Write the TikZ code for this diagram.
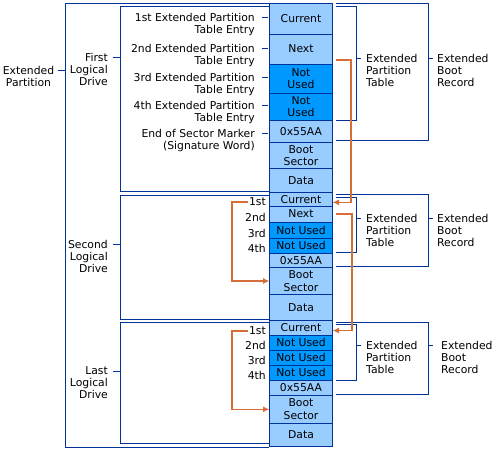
\documentclass[tikz,border=0pt]{standalone}
\usepackage{fontspec}
\setmainfont{DejaVu Sans}
\usepackage{tikz}
\usetikzlibrary{arrows.meta}

\definecolor{cellfill}{RGB}{153,204,255}
\definecolor{unusedfill}{RGB}{0,153,255}
\definecolor{edge}{RGB}{0,51,153}
\definecolor{linkorange}{RGB}{214,110,58}

\tikzset{
	txt/.style={font=\fontsize{10.8}{12}\selectfont, inner sep=0pt},
	cell/.style={draw=edge, line width=0.8pt, fill=cellfill, minimum width=63pt, inner sep=0pt, outer sep=0pt, anchor=north west, align=center, font=\fontsize{10.8}{12.5}\selectfont},
	unused/.style={cell, fill=unusedfill},
	brace/.style={draw=edge, line width=0.8pt},
	link/.style={draw=linkorange, line width=1.5pt, -{Latex[length=6.5pt,width=6pt]}},
}

\begin{document}
\begin{tikzpicture}[x=1pt,y=-1pt]
		\useasboundingbox (0,0) rectangle (494,451);
		\node[cell, minimum height=30.7pt] (cur1) at (269.5,3.3) {Current};
		\node[cell, minimum height=30pt] (next1) at (269.5,34) {Next};
		\node[unused, minimum height=29pt] (nua1) at (269.5,64) {Not\\Used};
		\node[unused, minimum height=27.7pt] (nub1) at (269.5,93) {Not\\Used};
		\node[cell, minimum height=22pt] (sig1) at (269.5,120.7) {0x55AA};
		\node[cell, minimum height=26pt] (boot1) at (269.5,142.7) {Boot\\Sector};
		\node[cell, minimum height=24pt] (data1) at (269.5,168.7) {Data};
		\node[cell, minimum height=13.3pt] (cur2) at (269.5,192.7) {Current};
		\node[cell, minimum height=16pt] (next2) at (269.5,206) {Next};
		\node[unused, minimum height=16pt] (nua2) at (269.5,222) {Not Used};
		\node[unused, minimum height=15.3pt] (nub2) at (269.5,238) {Not Used};
		\node[cell, minimum height=14pt] (sig2) at (269.5,253.3) {0x55AA};
		\node[cell, minimum height=27.4pt] (boot2) at (269.5,267.3) {Boot\\Sector};
		\node[cell, minimum height=25.3pt] (data2) at (269.5,294.7) {Data};
		\node[cell, minimum height=15pt] (cur3) at (269.5,320) {Current};
		\node[unused, minimum height=15.3pt] (nua3) at (269.5,335) {Not Used};
		\node[unused, minimum height=14.7pt] (nub3) at (269.5,350.3) {Not Used};
		\node[unused, minimum height=15.3pt] (nuc3) at (269.5,365) {Not Used};
		\node[cell, minimum height=14.7pt] (sig3) at (269.5,380.3) {0x55AA};
		\node[cell, minimum height=28.7pt] (boot3) at (269.5,395) {Boot\\Sector};
		\node[cell, minimum height=22.7pt] (data3) at (269.5,423.7) {Data};

		\draw[brace] (269,3) -- (65,3) -- (65,447) -- (269,447) (58,70) -- (65,70);
		\node[txt, align=center, anchor=north] (extpart) at (28.5,65.8) {Extended\\Partition};
		\draw[brace] (269,6.5) -- (120,6.5) -- (120,191.7) -- (269,191.7) (113,57) -- (120,57);
		\node[txt, align=right, anchor=north east] (drive1) at (108,52.8) {First\\Logical\\Drive};
		\draw[brace] (269,195.7) -- (120,195.7) -- (120,319) -- (269,319) (113,244) -- (120,244);
		\node[txt, align=right, anchor=north east] (drive2) at (108,239.8) {Second\\Logical\\Drive};
		\draw[brace] (269,322.7) -- (120,322.7) -- (120,443) -- (269,443) (113,371) -- (120,371);
		\node[txt, align=right, anchor=north east] (drive3) at (108,366.8) {Last\\Logical\\Drive};

		\draw[brace] (262,17) -- (268,17) (262,48) -- (268,48) (262,77) -- (268,77) (262,105) -- (268,105) (262,133) -- (268,133);
		\node[txt, align=right, anchor=north east] (entry1) at (255,12.8) {1st Extended Partition\\Table Entry};
		\node[txt, align=right, anchor=north east] (entry2) at (255,43.8) {2nd Extended Partition\\Table Entry};
		\node[txt, align=right, anchor=north east] (entry3) at (255,72.8) {3rd Extended Partition\\Table Entry};
		\node[txt, align=right, anchor=north east] (entry4) at (255,100.8) {4th Extended Partition\\Table Entry};
		\node[txt, align=right, anchor=north east] (entry5) at (255,128.8) {End of Sector Marker\\(Signature Word)};

		\node[txt, anchor=east] (one2) at (266,202) {1st};
		\node[txt, anchor=east] (two2) at (266,217) {2nd};
		\node[txt, anchor=east] (three2) at (266,233) {3rd};
		\node[txt, anchor=east] (four2) at (266,248) {4th};
		\node[txt, anchor=east] (one3) at (266,331) {1st};
		\node[txt, anchor=east] (two3) at (266,345) {2nd};
		\node[txt, anchor=east] (three3) at (266,360) {3rd};
		\node[txt, anchor=east] (four3) at (266,375.5) {4th};

		\draw[brace] (336,6) -- (356,6) -- (356,120) -- (336,120) (356,58) -- (361,58);
		\draw[brace] (336,3) -- (428,3) -- (428,140) -- (336,140) (428,58) -- (433,58);
		\node[txt, align=left, anchor=north west] (ept1) at (366,53.8) {Extended\\Partition\\Table};
		\node[txt, align=left, anchor=north west] (ebr1) at (437,53.8) {Extended\\Boot\\Record};
		\draw[brace] (336,197.3) -- (356,197.3) -- (356,252.3) -- (336,252.3) (356,218) -- (361,218);
		\draw[brace] (336,194.7) -- (428.5,194.7) -- (428.5,266) -- (336,266) (428.5,218) -- (433,218);
		\node[txt, align=left, anchor=north west] (ept2) at (366,213.8) {Extended\\Partition\\Table};
		\node[txt, align=left, anchor=north west] (ebr2) at (437,213.8) {Extended\\Boot\\Record};
		\draw[brace] (336,324) -- (356,324) -- (356,380.3) -- (336,380.3) (356,345) -- (361,345);
		\draw[brace] (336,322.3) -- (428.5,322.3) -- (428.5,394) -- (336,394) (428.5,345) -- (433,345);
		\node[txt, align=left, anchor=north west] (ept3) at (366,340.8) {Extended\\Partition\\Table};
		\node[txt, align=left, anchor=north west] (ebr3) at (441,340.8) {Extended\\Boot\\Record};

		\draw[link] ([xshift=3pt,yshift=4pt]next1.south east) -- ++(15.5,0) |- ([yshift=-3pt]cur2.east);
		\draw[link] ([xshift=3pt]next2.east) -- ++(16.5,0) |- ([yshift=-3pt]cur3.east);
		\draw[link, shorten <=1pt] (one2.west) -- ++(-17,0) |- (boot2.west);
		\draw[link, shorten <=1pt] (one3.west) -- ++(-17,0) |- (boot3.west);
		\end{tikzpicture}
\end{document}
